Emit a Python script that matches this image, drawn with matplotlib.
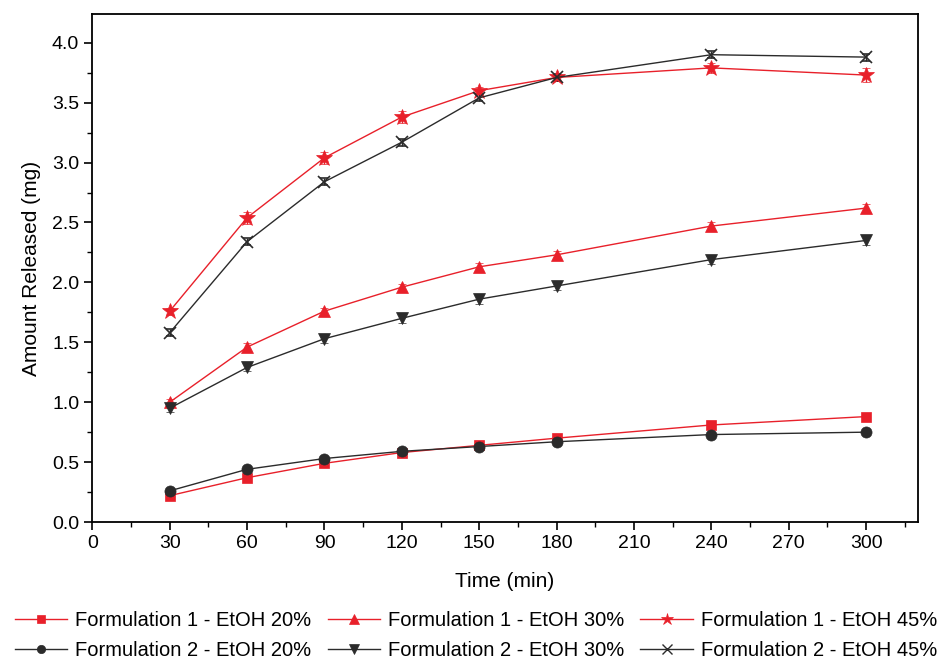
import numpy as np
import matplotlib.pyplot as plt
from matplotlib.ticker import MultipleLocator
from matplotlib.lines import Line2D

plt.rcParams['font.family'] = ['Liberation Sans', 'DejaVu Sans']

# sampling times (min)
time = [30, 60, 90, 120, 150, 180, 240, 300]

# amount released (mg)
f1_20 = [0.22, 0.37, 0.49, 0.58, 0.64, 0.70, 0.81, 0.88]
f2_20 = [0.26, 0.44, 0.53, 0.59, 0.63, 0.67, 0.73, 0.75]
f1_30 = [1.00, 1.46, 1.76, 1.96, 2.13, 2.23, 2.47, 2.62]
f2_30 = [0.95, 1.29, 1.53, 1.70, 1.86, 1.97, 2.19, 2.35]
f1_45 = [1.76, 2.54, 3.04, 3.38, 3.60, 3.71, 3.79, 3.73]
f2_45 = [1.58, 2.34, 2.84, 3.17, 3.54, 3.71, 3.90, 3.88]

# standard deviations
f1_20_sd = [0.02, 0.02, 0.02, 0.02, 0.02, 0.02, 0.02, 0.02]
f2_20_sd = [0.02, 0.02, 0.02, 0.02, 0.02, 0.02, 0.02, 0.02]
f1_30_sd = [0.03, 0.03, 0.03, 0.03, 0.03, 0.03, 0.03, 0.03]
f2_30_sd = [0.03, 0.03, 0.04, 0.04, 0.04, 0.03, 0.04, 0.04]
f1_45_sd = [0.03, 0.05, 0.05, 0.05, 0.03, 0.03, 0.04, 0.06]
f2_45_sd = [0.03, 0.03, 0.03, 0.03, 0.03, 0.03, 0.03, 0.03]

red = '#e8202a'
dark = '#2b2b2b'

series = [
    ('Formulation 1 - EtOH 20%', f1_20, f1_20_sd, red, 's', 7),
    ('Formulation 2 - EtOH 20%', f2_20, f2_20_sd, dark, 'o', 8),
    ('Formulation 1 - EtOH 30%', f1_30, f1_30_sd, red, '^', 9),
    ('Formulation 2 - EtOH 30%', f2_30, f2_30_sd, dark, 'v', 9),
    ('Formulation 1 - EtOH 45%', f1_45, f1_45_sd, red, '*', 12),
    ('Formulation 2 - EtOH 45%', f2_45, f2_45_sd, dark, 'x', 9),
]

fig = plt.figure(figsize=(9.52, 6.65), dpi=100)
ax = fig.add_axes([0.097, 0.215, 0.867, 0.764])

handles = []
for label, y, sd, col, mk, ms in series:
    ax.errorbar(time, y, yerr=sd, color=col, marker=mk, markersize=ms,
                linewidth=1.0, elinewidth=1.0, capsize=3,
                markeredgewidth=1.2 if mk == 'x' else 0.5)
    handles.append(Line2D([], [], color=col, marker=mk, linewidth=1.0,
                          markersize=ms * 0.75, label=label,
                          markeredgewidth=1.0 if mk == 'x' else 0.5))

ax.set_xlim(0, 320)
ax.set_ylim(0, 4.24)
ax.xaxis.set_major_locator(MultipleLocator(30))
ax.xaxis.set_minor_locator(MultipleLocator(15))
ax.yaxis.set_major_locator(MultipleLocator(0.5))
ax.yaxis.set_minor_locator(MultipleLocator(0.25))
ax.yaxis.set_major_formatter(plt.FormatStrFormatter('%.1f'))
ax.tick_params(which='major', direction='out', length=6, width=1.2, labelsize=14)
ax.tick_params(which='minor', direction='out', length=3.5, width=1.0)
for s in ax.spines.values():
    s.set_linewidth(1.3)

ax.set_xlabel('Time (min)', fontsize=15, labelpad=14)
ax.set_ylabel('Amount Released (mg)', fontsize=15, labelpad=8)

fig.legend(handles=handles, loc='lower center', bbox_to_anchor=(0.5, -0.02),
           ncol=3, frameon=False, fontsize=14.5,
           handlelength=2.6, columnspacing=0.8, handletextpad=0.4,
           labelspacing=0.55)

fig.savefig('out.png', dpi=100)
